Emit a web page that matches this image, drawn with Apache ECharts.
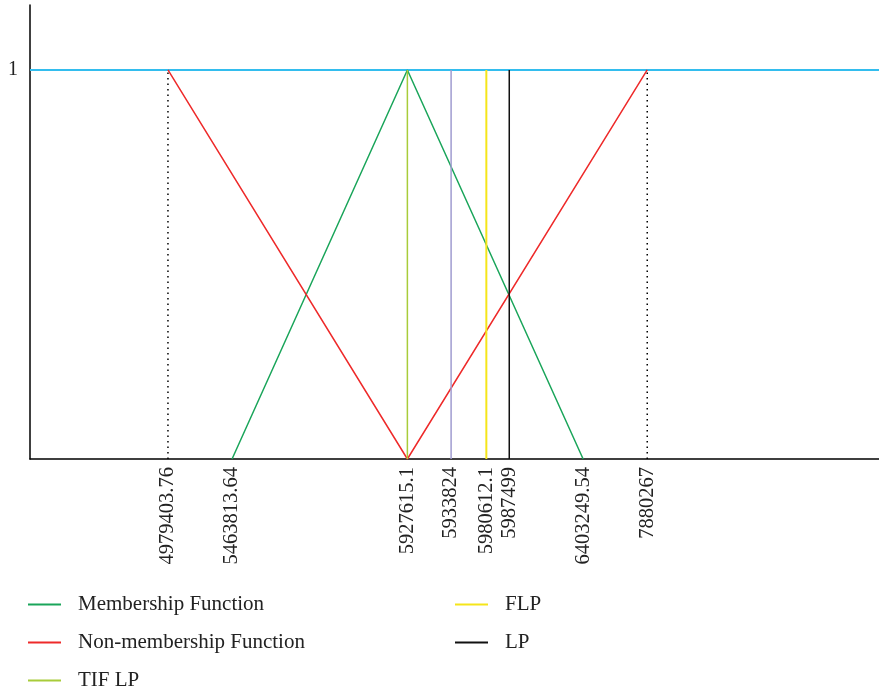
<!DOCTYPE html>
<html><head><meta charset="utf-8">
<script src="https://cdn.jsdelivr.net/npm/echarts@6/dist/echarts.min.js"></script>
<style>html,body{margin:0;padding:0;background:#fff}#c{width:879px;height:695px}</style>
</head><body><div id="c"></div>
<script>
// Tick labels (the values shown on the non-linear, schematic x axis)
const tickLabels = ['4979403.76','5463813.64','5927615.1','5933824','5980612.1','5987499','6403249.54','7880267'];
// Schematic positions of those ticks along the axis (0-100 units)
const tickPos = [16.25, 23.8, 44.45, 49.6, 53.75, 56.45, 65.15, 72.7];
// membership degree values
const membershipY = [0, 1, 0];          // at 5463813.64, 5927615.1, 6403249.54
const nonMembershipY = [1, 0, 1];       // at 4979403.76, 5927615.1, 7880267
const levelY = [1, 1];                  // upper level line
const legendNames = ['Membership Function', 'Non-membership Function', 'TIF LP', 'FLP', 'LP'];
const fontSerif = '"Liberation Serif", "DejaVu Serif", serif';

const P = lbl => tickPos[tickLabels.indexOf(lbl)];
const vline = lbl => [[P(lbl), 0], [P(lbl), 1]];

const legendSlots = [[28, 593], [28, 631], [28, 669], [455, 593], [455, 631]];
const legends = legendNames.map((n, i) => ({
  data: [n], left: legendSlots[i][0], top: legendSlots[i][1], padding: 0,
  itemWidth: 33, itemHeight: 2, icon: 'rect',
  textStyle: {fontFamily: fontSerif, fontSize: 21, color: '#222', lineHeight: 23, padding: [0, 0, 0, 12]}
}));

const chart = echarts.init(document.getElementById('c'));
chart.setOption({
  animation: false,
  grid: {left: 30, right: 0, top: 5, bottom: 236},
  xAxis: {
    type: 'value', min: 0, max: 100,
    splitLine: {show: false},
    axisLine: {lineStyle: {color: '#000', width: 1.5}},
    axisTick: {show: false},
    axisLabel: {
      customValues: tickPos,
      rotate: 90, margin: 8,
      color: '#222', fontSize: 20.5, fontFamily: fontSerif,
      formatter: v => { const i = tickPos.indexOf(v); return i >= 0 ? tickLabels[i] : ''; }
    }
  },
  yAxis: {
    type: 'value', min: 0, max: 1.167,
    splitLine: {show: false},
    axisLine: {show: true, lineStyle: {color: '#000', width: 1.5}},
    axisTick: {show: false},
    axisLabel: {customValues: [1], color: '#222', fontSize: 20, fontFamily: fontSerif, margin: 12}
  },
  legend: legends,
  series: [
    {name: 'level', type: 'line', symbol: 'none', data: [[0, levelY[0]], [100, levelY[1]]],
     lineStyle: {color: '#33bdee', width: 2}, z: 1},
    {name: 'dot1', type: 'line', symbol: 'none', data: vline('4979403.76'),
     lineStyle: {color: '#000', width: 1.5, type: [1.5, 4]}},
    {name: 'dot2', type: 'line', symbol: 'none', data: vline('7880267'),
     lineStyle: {color: '#000', width: 1.5, type: [1.5, 4]}},
    {name: 'Membership Function', type: 'line', symbol: 'none', color: '#1aa55a',
     data: [[P('5463813.64'), membershipY[0]], [P('5927615.1'), membershipY[1]], [P('6403249.54'), membershipY[2]]],
     lineStyle: {width: 1.5}},
    {name: 'Non-membership Function', type: 'line', symbol: 'none', color: '#ee2a2a',
     data: [[P('4979403.76'), nonMembershipY[0]], [P('5927615.1'), nonMembershipY[1]], [P('7880267'), nonMembershipY[2]]],
     lineStyle: {width: 1.5}},
    {name: 'TIF LP', type: 'line', symbol: 'none', color: '#a8cc3a', data: vline('5927615.1'), lineStyle: {width: 1.5}},
    {name: 'purple', type: 'line', symbol: 'none', color: '#a09cd0', data: vline('5933824'), lineStyle: {width: 1.5}},
    {name: 'FLP', type: 'line', symbol: 'none', color: '#f5e51a', data: vline('5980612.1'), lineStyle: {width: 2}},
    {name: 'LP', type: 'line', symbol: 'none', color: '#111', data: vline('5987499'), lineStyle: {width: 1.5}}
  ]
});
</script></body></html>
